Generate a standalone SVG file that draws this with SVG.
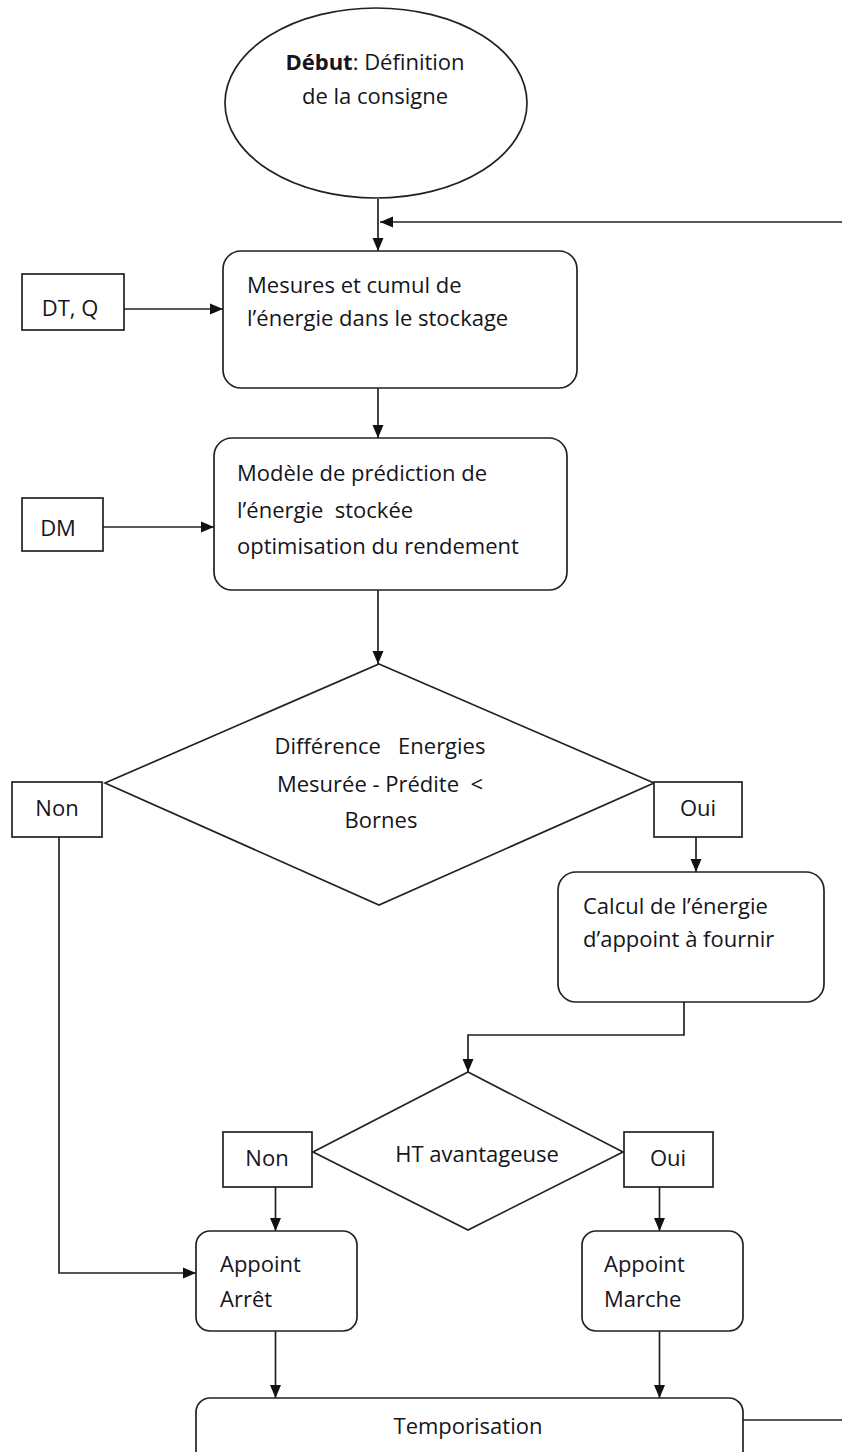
<svg xmlns="http://www.w3.org/2000/svg" width="842" height="1452" viewBox="0 0 842 1452">
  <defs>
    <marker id="arr" markerUnits="userSpaceOnUse" markerWidth="13" markerHeight="12" viewBox="0 0 13 12" refX="13" refY="6" orient="auto">
      <path d="M0,0.5 L13,6 L0,11.5 Z" fill="#111"/>
    </marker>
    <style>
      .shape { fill: #fff; stroke: #222; stroke-width: 1.7; }
      .conn { fill: none; stroke: #222; stroke-width: 1.7; }
      text { font-family: "Open Sans", "Liberation Sans", sans-serif; font-size: 22px; fill: #151520; white-space: pre; }
      .c { text-anchor: middle; }
      .b { font-weight: bold; }
    </style>
  </defs>
  <rect width="842" height="1452" fill="#fff"/>

  <g id="connectors">
    <line class="conn" x1="378" y1="199" x2="378" y2="251" marker-end="url(#arr)"/>
    <line class="conn" x1="842" y1="222" x2="380" y2="222" marker-end="url(#arr)"/>
    <line class="conn" x1="124" y1="309" x2="223" y2="309" marker-end="url(#arr)"/>
    <line class="conn" x1="378" y1="388" x2="378" y2="438" marker-end="url(#arr)"/>
    <line class="conn" x1="103" y1="527" x2="214" y2="527" marker-end="url(#arr)"/>
    <line class="conn" x1="378" y1="590" x2="378" y2="664" marker-end="url(#arr)"/>
    <line class="conn" x1="696" y1="837" x2="696" y2="872" marker-end="url(#arr)"/>
    <polyline class="conn" points="59,837 59,1273 196,1273" marker-end="url(#arr)"/>
    <polyline class="conn" points="684,1002 684,1035 468,1035 468,1072" marker-end="url(#arr)"/>
    <line class="conn" x1="275.5" y1="1187" x2="275.5" y2="1231" marker-end="url(#arr)"/>
    <line class="conn" x1="659.5" y1="1187" x2="659.5" y2="1231" marker-end="url(#arr)"/>
    <line class="conn" x1="275.5" y1="1331" x2="275.5" y2="1398" marker-end="url(#arr)"/>
    <line class="conn" x1="659.5" y1="1331" x2="659.5" y2="1398" marker-end="url(#arr)"/>
    <line class="conn" x1="743" y1="1420" x2="842" y2="1420"/>
  </g>

  <g id="debut">
    <ellipse class="shape" cx="376" cy="103" rx="151" ry="95"/>
    <text class="c" x="375" y="70"><tspan class="b">Début</tspan>: Définition</text>
    <text class="c" x="375" y="104">de la consigne</text>
  </g>

  <g id="dtq">
    <rect class="shape" x="22" y="274" width="102" height="56"/>
    <text class="c" x="70" y="316">DT, Q</text>
  </g>

  <g id="mesures">
    <rect class="shape" x="223" y="251" width="354" height="137" rx="18" ry="18"/>
    <text x="247" y="293">Mesures et cumul de</text>
    <text x="247" y="326">l’énergie dans le stockage</text>
  </g>

  <g id="dm">
    <rect class="shape" x="22" y="498" width="81" height="53"/>
    <text class="c" x="58" y="536">DM</text>
  </g>

  <g id="modele">
    <rect class="shape" x="214" y="438" width="353" height="152" rx="18" ry="18"/>
    <text x="237" y="481">Modèle de prédiction de</text>
    <text x="237" y="518">l’énergie  stockée</text>
    <text x="237" y="554">optimisation du rendement</text>
  </g>

  <g id="difference">
    <polygon class="shape" points="379,664 654,783 379,905 105,783"/>
    <text class="c" x="380" y="754">Différence   Energies</text>
    <text class="c" x="380" y="792">Mesurée - Prédite  &lt;</text>
    <text class="c" x="381" y="828">Bornes</text>
  </g>

  <g id="non1">
    <rect class="shape" x="12" y="782" width="90" height="55"/>
    <text class="c" x="57" y="816">Non</text>
  </g>

  <g id="oui1">
    <rect class="shape" x="654" y="782" width="88" height="55"/>
    <text class="c" x="698" y="816">Oui</text>
  </g>

  <g id="calcul">
    <rect class="shape" x="558" y="872" width="266" height="130" rx="18" ry="18"/>
    <text x="583" y="914">Calcul de l’énergie</text>
    <text x="583" y="947">d’appoint à fournir</text>
  </g>

  <g id="ht">
    <polygon class="shape" points="468,1072 623,1152 468,1230 313,1152"/>
    <text class="c" x="477" y="1162">HT avantageuse</text>
  </g>

  <g id="non2">
    <rect class="shape" x="223" y="1132" width="89" height="55"/>
    <text class="c" x="267" y="1166">Non</text>
  </g>

  <g id="oui2">
    <rect class="shape" x="624" y="1132" width="89" height="55"/>
    <text class="c" x="668" y="1166">Oui</text>
  </g>

  <g id="arret">
    <rect class="shape" x="196" y="1231" width="161" height="100" rx="14" ry="14"/>
    <text x="220" y="1272">Appoint</text>
    <text x="220" y="1307">Arrêt</text>
  </g>

  <g id="marche">
    <rect class="shape" x="582" y="1231" width="161" height="100" rx="14" ry="14"/>
    <text x="604" y="1272">Appoint</text>
    <text x="604" y="1307">Marche</text>
  </g>

  <g id="temporisation">
    <rect class="shape" x="196" y="1398" width="547" height="90" rx="14" ry="14"/>
    <text class="c" x="468" y="1434">Temporisation</text>
  </g>
</svg>
